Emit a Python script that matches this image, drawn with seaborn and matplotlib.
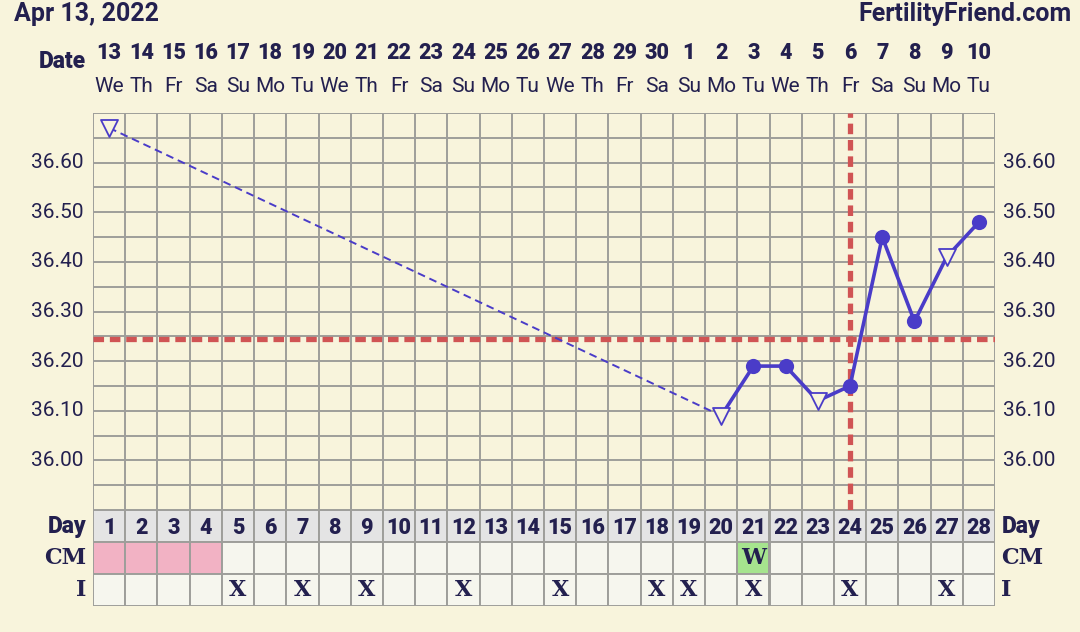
import matplotlib
matplotlib.use("Agg")
import matplotlib.pyplot as plt
import seaborn as sns
import pandas as pd

# ---------------- data ----------------
title_left = "Apr 13, 2022"
title_right = "FertilityFriend.com"
dates = ["13", "14", "15", "16", "17", "18", "19", "20", "21", "22", "23", "24", "25", "26",
         "27", "28", "29", "30", "1", "2", "3", "4", "5", "6", "7", "8", "9", "10"]
weekdays = ["We", "Th", "Fr", "Sa", "Su", "Mo", "Tu", "We", "Th", "Fr", "Sa", "Su", "Mo", "Tu",
            "We", "Th", "Fr", "Sa", "Su", "Mo", "Tu", "We", "Th", "Fr", "Sa", "Su", "Mo", "Tu"]
cycle_days = list(range(1, 29))

temp_days = [1, 20, 21, 22, 23, 24, 25, 26, 27, 28]
temps = [36.67, 36.09, 36.19, 36.19, 36.12, 36.15, 36.45, 36.28, 36.41, 36.48]
temp_kind = ["open", "open", "filled", "filled", "open", "filled", "filled", "filled", "open", "filled"]

coverline = 36.245
ovulation_day = 24
temp_ticks = [36.00, 36.10, 36.20, 36.30, 36.40, 36.50, 36.60]

cm_pink_days = [1, 2, 3, 4]
cm_w_days = [21]
intercourse_days = [5, 7, 9, 12, 15, 18, 19, 21, 24, 27]

# ---------------- style ----------------
BG = "#f8f4dc"
GRID = "#9e9e9a"
PURPLE = "#4a3cc8"
RED = "#d05454"
NAVY = "#23204f"
W, H = 1080, 632

sns.set_theme(style="white")
plt.rcParams["font.family"] = ["Roboto", "DejaVu Sans"]

fig = plt.figure(figsize=(W / 100, H / 100), dpi=100, facecolor=BG)

L, R = 93, 995
T_top, T_bot = 113, 510
tab_bot = 606

ax = fig.add_axes([L / W, 1 - T_bot / H, (R - L) / W, (T_bot - T_top) / H])
ax.set_facecolor(BG)
ax.set_xlim(0.5, 28.5)
ax.set_ylim(35.90, 36.70)

# grid
for x in [d + 0.5 for d in range(0, 29)]:
    ax.axvline(x, color=GRID, lw=1.4, zorder=1)
for i in range(17):
    ax.axhline(35.90 + 0.05 * i, color=GRID, lw=1.4, zorder=1)

# coverline and ovulation
ax.axhline(coverline, color=RED, lw=3.8, dashes=(2.0, 1.1), zorder=2)
ax.axvline(ovulation_day, color=RED, lw=3.8, dashes=(2.0, 1.1), zorder=2)

df = pd.DataFrame({"day": temp_days, "temp": temps, "kind": temp_kind})
gap = df.iloc[:2]
cont = df.iloc[1:]
sns.lineplot(data=gap, x="day", y="temp", ax=ax, color=PURPLE, lw=1.4,
             linestyle=(0, (4, 2.5)), zorder=3, legend=False)
sns.lineplot(data=cont, x="day", y="temp", ax=ax, color=PURPLE, lw=2.6, zorder=3, legend=False)
filled = df[df["kind"] == "filled"]
opened = df[df["kind"] == "open"]
sns.scatterplot(data=filled, x="day", y="temp", ax=ax, color=PURPLE, s=120,
                edgecolor=PURPLE, linewidth=0, zorder=4, legend=False)
sns.scatterplot(data=opened, x="day", y="temp", ax=ax, marker="v", s=150,
                facecolor=BG, edgecolor=PURPLE, linewidth=1.3, zorder=4, legend=False)

ax.set_xlabel("")
ax.set_ylabel("")
ax.set_xticks([])
ax.set_yticks([])
for s in ax.spines.values():
    s.set_visible(False)

# y labels both sides
for t in temp_ticks:
    ax.text(-0.011, t, f"{t:.2f}", transform=ax.get_yaxis_transform(),
            ha="right", va="center", fontsize=15, color=NAVY)
    ax.text(1.009, t, f"{t:.2f}", transform=ax.get_yaxis_transform(),
            ha="left", va="center", fontsize=15, color=NAVY)

# top date/weekday labels
for d, dt, wd in zip(cycle_days, dates, weekdays):
    fig.text((L + (d - 0.5) * (R - L) / 28) / W, 1 - 53 / H, dt, ha="center", va="center",
             fontsize=15.5, fontweight="heavy", color=NAVY)
    fig.text((L + (d - 0.5) * (R - L) / 28) / W, 1 - 87 / H, wd, ha="center", va="center",
             fontsize=15, color=NAVY)
fig.text(86 / W, 1 - 61 / H, "Date", ha="right", va="center", fontsize=16.5,
         fontweight="heavy", color=NAVY)
fig.text(14 / W, 1 - 14 / H, title_left, ha="left", va="center", fontsize=18,
         fontweight="bold", color=NAVY)
fig.text(1072 / W, 1 - 14 / H, title_right, ha="right", va="center", fontsize=18,
         fontweight="bold", color=NAVY)

# ---------------- table ----------------
tx = fig.add_axes([L / W, 1 - tab_bot / H, (R - L) / W, (tab_bot - T_bot) / H])
tx.set_xlim(0.5, 28.5)
tx.set_ylim(0, 3)
tx.set_facecolor(BG)
tx.axis("off")

day_colors = ["#e4e4e4"] * 28
cm_colors = ["#f2b2c4" if d in cm_pink_days else ("#a6e48e" if d in cm_w_days else "#f6f6ee")
             for d in cycle_days]
i_colors = ["#f6f6ee"] * 28
tx.bar(cycle_days, 1, bottom=2, width=1, color=day_colors, edgecolor=GRID, lw=1.4)
tx.bar(cycle_days, 1, bottom=1, width=1, color=cm_colors, edgecolor=GRID, lw=1.4)
tx.bar(cycle_days, 1, bottom=0, width=1, color=i_colors, edgecolor=GRID, lw=1.4)

serif = ["DejaVu Serif"]
for d in cycle_days:
    tx.text(d, 2.45, str(d), ha="center", va="center", fontsize=15.5, fontweight="heavy", color=NAVY)
for d in cm_w_days:
    tx.text(d, 1.5, "W", ha="center", va="center", fontsize=16, fontweight="bold",
            color=NAVY, family=serif)
for d in intercourse_days:
    tx.text(d, 0.5, "X", ha="center", va="center", fontsize=16, fontweight="bold",
            color=NAVY, family=serif)

for lbl, y, fam in [("Day", 2.5, None), ("CM", 1.5, serif), ("I", 0.5, serif)]:
    kw = dict(fontsize=16.5 if fam is None else 16, fontweight="heavy" if fam is None else "bold",
              color=NAVY, va="center")
    if fam:
        kw["family"] = fam
    tx.text(0.3, y, lbl, ha="right", **kw)
    tx.text(28.7, y, lbl, ha="left", **kw)

fig.savefig("out.png", dpi=100, facecolor=BG)
